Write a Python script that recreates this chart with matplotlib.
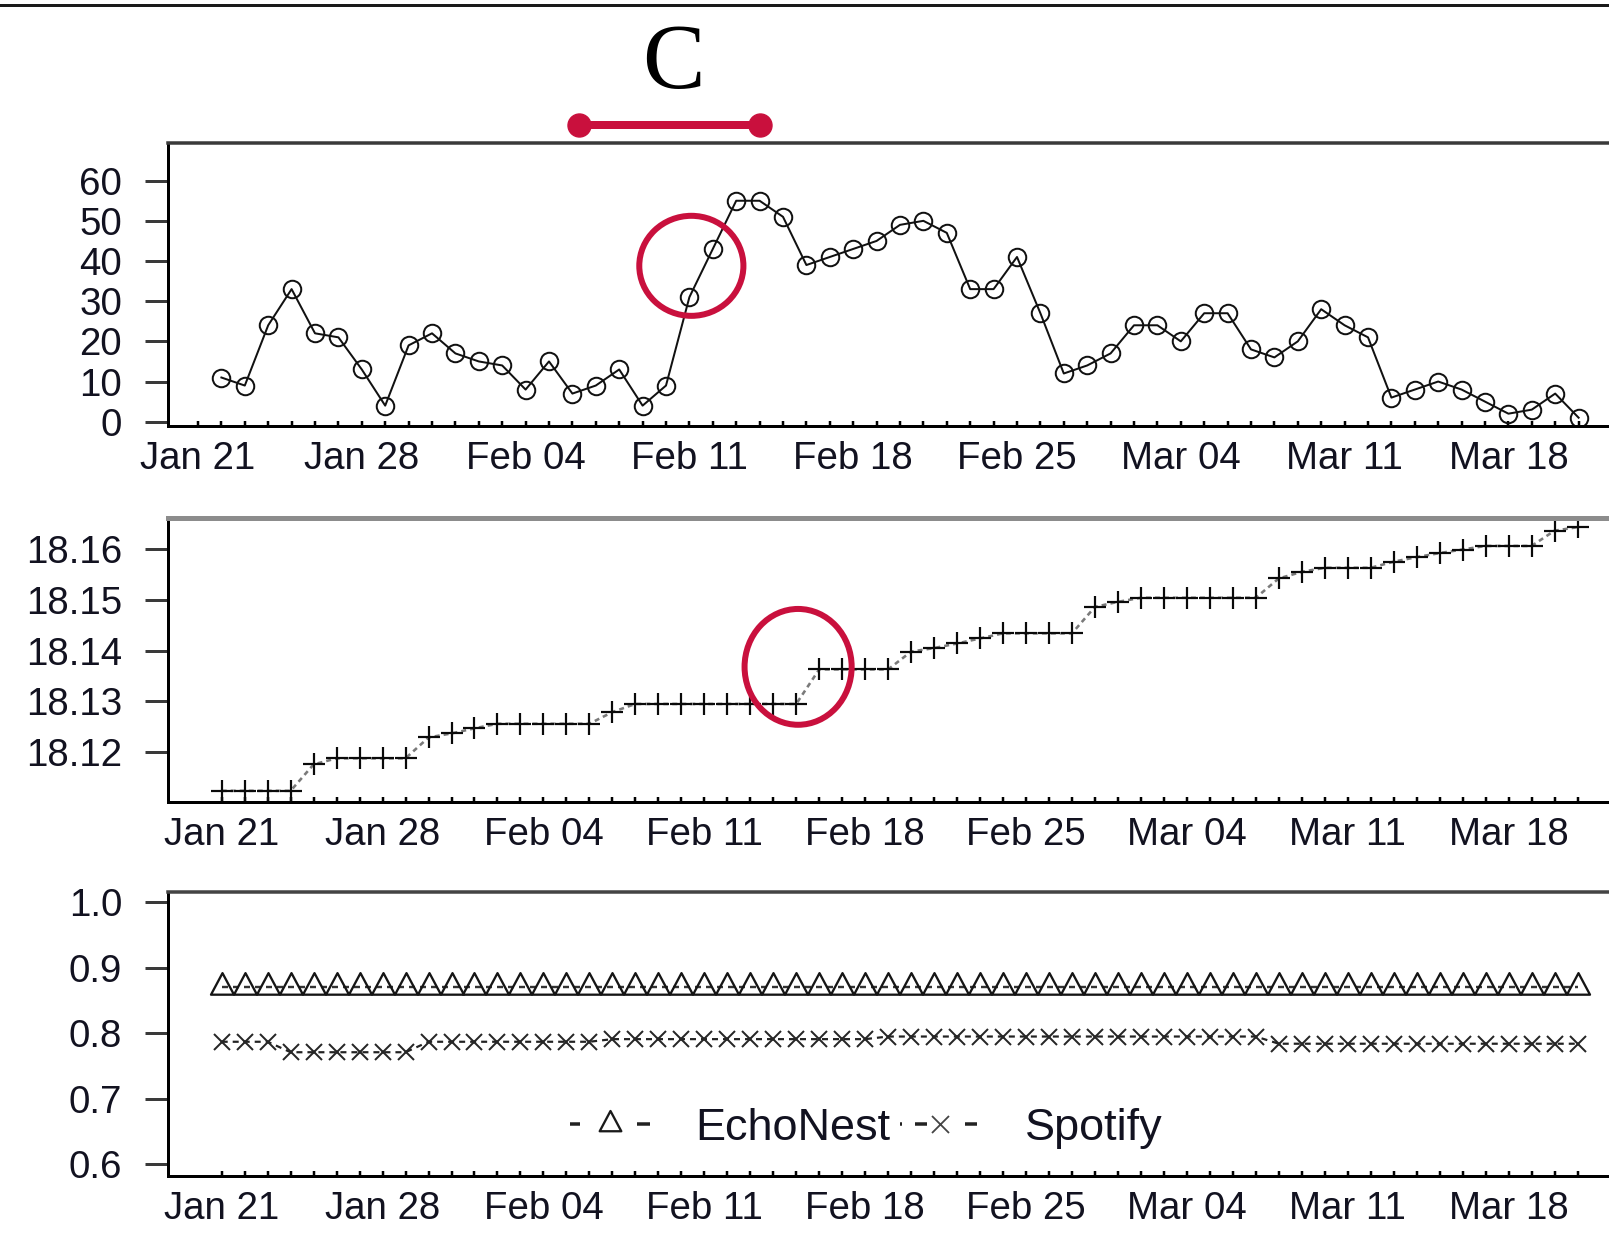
import numpy as np
import matplotlib
matplotlib.use("Agg")
import matplotlib.pyplot as plt
import matplotlib.dates as mdates
import matplotlib.transforms as mtransforms
from matplotlib.path import Path
from matplotlib.patches import Ellipse
from matplotlib.lines import Line2D
from matplotlib.ticker import FixedLocator, FormatStrFormatter

plt.rcParams['font.family'] = ['Liberation Sans', 'DejaVu Sans']
plt.rcParams['lines.scale_dashes'] = False

W, H, DPI = 1609, 1234, 100
PX = 72 / DPI  # points per pixel

# ---------------------------------------------------------------- data
days = np.arange(np.datetime64('2013-01-21'), np.datetime64('2013-03-22'))  # Jan 21 .. Mar 21
plays_days = days[1:]                                                       # Jan 22 .. Mar 21
week_days = days[::7][:9]                                                   # labelled days

plays = [11, 9, 24, 33, 22, 21, 13, 4, 19, 22,
         17, 15, 14, 8, 15, 7, 9, 13, 4, 9,
         31, 43, 55, 55, 51, 39, 41, 43, 45, 49,
         50, 47, 33, 33, 41, 27, 12, 14, 17, 24,
         24, 20, 27, 27, 18, 16, 20, 28, 24, 21,
         6, 8, 10, 8, 5, 2, 3, 7, 1]

position = [18.1124, 18.1124, 18.1124, 18.1124, 18.1176, 18.1188, 18.1188, 18.1188, 18.1188, 18.1229,
            18.1237, 18.1247, 18.1256, 18.1256, 18.1256, 18.1256, 18.1256, 18.1279, 18.1295, 18.1295,
            18.1295, 18.1295, 18.1295, 18.1295, 18.1295, 18.1295, 18.1363, 18.1363, 18.1363, 18.1363,
            18.1398, 18.1405, 18.1414, 18.1424, 18.1434, 18.1434, 18.1434, 18.1434, 18.1486, 18.1496,
            18.1504, 18.1504, 18.1504, 18.1504, 18.1504, 18.1504, 18.1542, 18.1555, 18.1563, 18.1563,
            18.1563, 18.1575, 18.1584, 18.1592, 18.1599, 18.1606, 18.1606, 18.1606, 18.1636, 18.1643]

echonest = [0.87, 0.87, 0.87, 0.87, 0.87, 0.87, 0.87, 0.87, 0.87, 0.87,
            0.87, 0.87, 0.87, 0.87, 0.87, 0.87, 0.87, 0.87, 0.87, 0.87,
            0.87, 0.87, 0.87, 0.87, 0.87, 0.87, 0.87, 0.87, 0.87, 0.87,
            0.87, 0.87, 0.87, 0.87, 0.87, 0.87, 0.87, 0.87, 0.87, 0.87,
            0.87, 0.87, 0.87, 0.87, 0.87, 0.87, 0.87, 0.87, 0.87, 0.87,
            0.87, 0.87, 0.87, 0.87, 0.87, 0.87, 0.87, 0.87, 0.87, 0.87]

spotify = [0.787, 0.787, 0.787, 0.771, 0.771, 0.771, 0.771, 0.771, 0.771, 0.787,
           0.787, 0.787, 0.787, 0.787, 0.787, 0.787, 0.787, 0.791, 0.791, 0.791,
           0.791, 0.791, 0.791, 0.791, 0.791, 0.791, 0.791, 0.791, 0.791, 0.795,
           0.795, 0.795, 0.795, 0.795, 0.795, 0.795, 0.795, 0.795, 0.795, 0.795,
           0.795, 0.795, 0.795, 0.795, 0.795, 0.795, 0.784, 0.784, 0.784, 0.784,
           0.784, 0.784, 0.784, 0.784, 0.784, 0.784, 0.784, 0.784, 0.784, 0.784]

series_labels = ['EchoNest', 'Spotify']
window_label = 'C'
window = (np.datetime64('2013-02-06T07:00'), np.datetime64('2013-02-14T00:00'))

# highlighted spots: (centre day, centre value, width in days, height in value units)
spot_plays = (np.datetime64('2013-02-11T02:00'), 38.8, 4.45, 24.9)
spot_position = (np.datetime64('2013-02-15T02:00'), 18.1368, 4.66, 0.0228)

RED = '#c9103d'
TEXT = '#121220'

d_all = mdates.date2num(days)
d_plays = mdates.date2num(plays_days)
d_weeks = mdates.date2num(week_days)
d0 = mdates.date2num(days[0])

fig = plt.figure(figsize=(W / DPI, H / DPI), dpi=DPI)
fig.patch.set_facecolor('white')


def add_panel(top, bottom, left=168, right=1650):
    return fig.add_axes([left / W, 1 - bottom / H, (right - left) / W, (bottom - top) / H])


def style(ax, yticks, fmt, top_color, top_lw):
    for s in ('left', 'bottom'):
        ax.spines[s].set_color('black')
        ax.spines[s].set_linewidth(3 * PX)
    ax.spines['top'].set_color(top_color)
    ax.spines['top'].set_linewidth(top_lw * PX)
    ax.spines['right'].set_visible(False)
    ax.set_yticks(yticks)
    ax.yaxis.set_major_formatter(FormatStrFormatter(fmt))
    ax.tick_params(axis='y', direction='out', length=23 * PX, width=3 * PX,
                   color='#3a3a3a', pad=23 * PX, labelsize=38.5 * PX, labelcolor=TEXT)
    ax.xaxis.set_major_locator(FixedLocator(d_weeks))
    ax.xaxis.set_major_formatter(mdates.DateFormatter('%b %d'))
    ax.xaxis.set_minor_locator(FixedLocator(d_all))
    ax.tick_params(axis='x', which='both', direction='in', length=5 * PX, width=2.5 * PX,
                   color='black', pad=15 * PX, labelsize=38.5 * PX, labelcolor=TEXT)
    ax.set_facecolor('white')


# ---------------------------------------------------------------- panel 1: plays
ax1 = add_panel(143.3, 426)
ax1.plot(d_plays, plays, color='#111111', lw=2 * PX, marker='o', ms=17.5 * PX,
         mfc='none', mec='#111111', mew=2 * PX)
ax1.set_ylim(-1.07, 69.3)
ax1.set_xlim(d0 - 30 / 23.4, d0 + (1650 - 198) / 23.4)
style(ax1, [0, 10, 20, 30, 40, 50, 60], '%d', '#3a3a3a', 3.5)

# analysis window above the top panel
blend1 = mtransforms.blended_transform_factory(ax1.transData, ax1.transAxes)
w0, w1 = mdates.date2num(window[0]), mdates.date2num(window[1])
ax1.plot([w0, w1], [1.0648, 1.0648], transform=blend1, color=RED, lw=8 * PX,
         marker='o', ms=23 * PX, mec=RED, mfc=RED, clip_on=False, solid_capstyle='butt')
ax1.text((w0 + w1) / 2 + 0.15, 1.1956, window_label, transform=blend1, ha='center', va='baseline',
         fontsize=67.5, family=['Liberation Serif', 'DejaVu Serif'], color='black')

c, v, wd, hv = spot_plays
ax1.add_patch(Ellipse((mdates.date2num(c), v), wd, hv, fill=False, ec=RED,
                      lw=6 * PX, clip_on=False, zorder=5))

# ---------------------------------------------------------------- panel 2: position
ax2 = add_panel(517.5, 802)
ax2.plot(d_all, position, color='#7a7a7a', lw=2.6 * PX, ls=(0, (5 * PX, 4 * PX)),
         marker='+', ms=22 * PX, mec='#0a0a0a', mew=2.2 * PX)
ax2.set_ylim(18.1102, 18.1662)
ax2.set_xlim(d0 - 53.7 / 22.98, d0 + (1650 - 221.7) / 22.98)
style(ax2, [18.12, 18.13, 18.14, 18.15, 18.16], '%.2f', '#8c8c8c', 5)

c, v, wd, hv = spot_position
ax2.add_patch(Ellipse((mdates.date2num(c), v), wd, hv, fill=False, ec=RED,
                      lw=6 * PX, clip_on=False, zorder=5))

# ---------------------------------------------------------------- panel 3: similarity
tri = Path([(0, 1), (-0.8, -0.5), (0.8, -0.5), (0, 1)],
           [Path.MOVETO, Path.LINETO, Path.LINETO, Path.CLOSEPOLY])

ax3 = add_panel(892, 1176)
dash = (0, (6 * PX, 5 * PX))
ax3.plot(d_all, echonest, color='#333333', lw=2.4 * PX, ls=dash, marker=tri, ms=28.75 * PX,
         mfc='none', mec='#151515', mew=2.3 * PX)
ax3.plot(d_all, spotify, color='#222222', lw=2.2 * PX, ls=dash, marker='x', ms=16.5 * PX,
         mec='#262626', mew=2 * PX)
ax3.set_ylim(0.582, 1.0157)
ax3.set_xlim(d0 - 53.7 / 22.98, d0 + (1650 - 221.7) / 22.98)
style(ax3, [0.6, 0.7, 0.8, 0.9, 1.0], '%.1f', '#444444', 3.5)

h_echo = Line2D([], [], color='#222222', lw=3.5 * PX,
                ls=(0, (10 * PX, 57 * PX, 13 * PX, 100 * PX)),
                marker=tri, ms=27 * PX, mfc='none', mec='#1a1a1a', mew=2.3 * PX)
h_spot = Line2D([], [], color='#222222', lw=3.5 * PX,
                ls=(0, (2 * PX, 13 * PX, 12 * PX, 38 * PX, 12 * PX, 100 * PX)),
                marker='x', ms=17 * PX, mec='#444444', mew=1.8 * PX)
leg = ax3.legend([h_echo, h_spot], series_labels, loc='center',
                 bbox_to_anchor=(866.5 / W, 1 - 1128.5 / H), bbox_transform=fig.transFigure,
                 ncol=2, frameon=False, fontsize=45 * PX, handlelength=80 / 45,
                 handletextpad=1.0, columnspacing=0.22, numpoints=1,
                 borderpad=0, borderaxespad=0)
for t in leg.get_texts():
    t.set_color(TEXT)

# frame rule along the top edge
fig.add_artist(Line2D([0, 1], [1 - 4.5 / H, 1 - 4.5 / H], transform=fig.transFigure,
                      color='#1a1a1a', lw=3 * PX))

fig.savefig('out.png', dpi=DPI)
